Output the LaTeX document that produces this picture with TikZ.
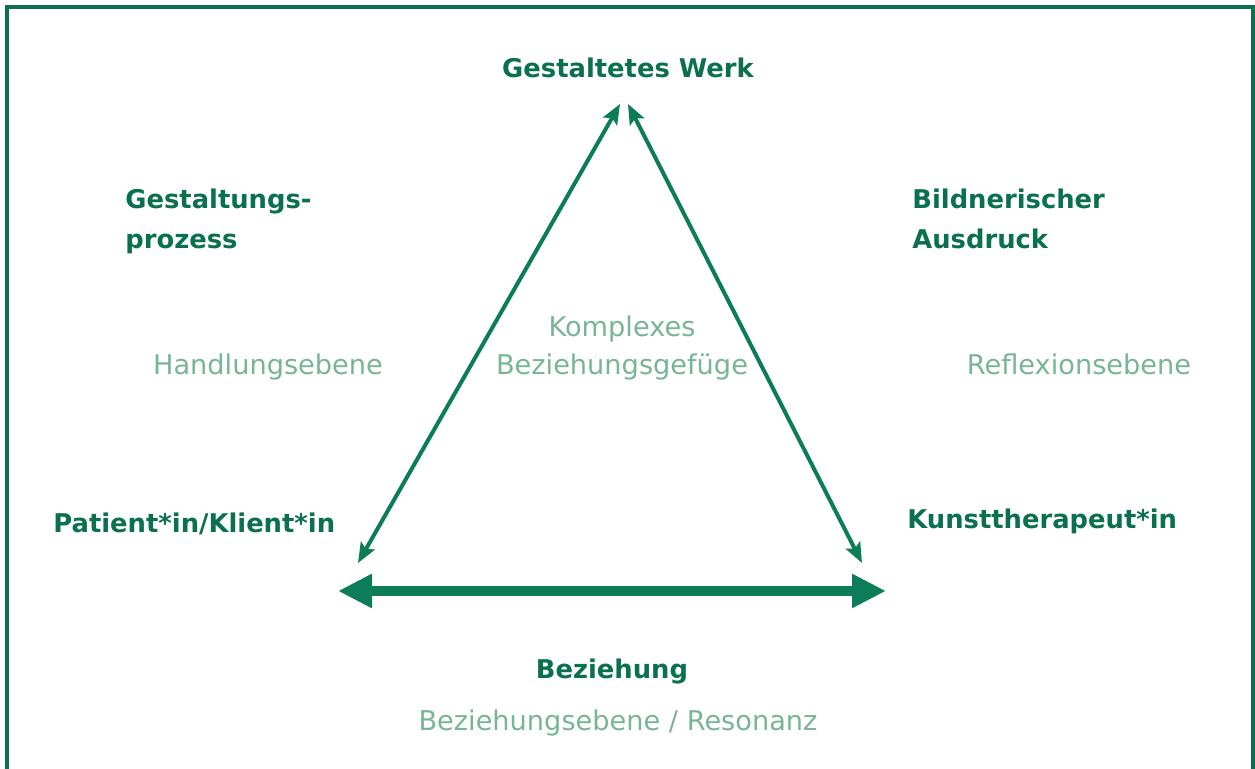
\documentclass[tikz,border=0pt]{standalone}
\usepackage{fontspec}
\setmainfont{DejaVu Sans}
\usetikzlibrary{arrows.meta}
\definecolor{dkgreen}{HTML}{0B7050}
\definecolor{argreen}{HTML}{0C7D58}
\definecolor{ltgreen}{HTML}{78B596}
\tikzset{
  boldlbl/.style={text=dkgreen, font=\fontsize{12.9pt}{20pt}\selectfont\bfseries, inner sep=0pt, align=left},
  lightlbl/.style={text=ltgreen, font=\fontsize{13.6pt}{16pt}\selectfont, inner sep=0pt, align=center},
  thinarrow/.style={draw=argreen, line width=2pt, {Stealth[length=10pt,width=8pt,inset=2pt]}-{Stealth[length=10pt,width=8pt,inset=2pt]}},
  thickarrow/.style={draw=argreen, line width=5pt, {Triangle[length=17pt,width=16pt]}-{Triangle[length=17pt,width=16pt]}},
  frameline/.style={draw=dkgreen, line width=1.6pt}
}
\begin{document}
\begin{tikzpicture}[x=0.5pt,y=-0.5pt]
\useasboundingbox (0,0) rectangle (1255,769);
\draw[frameline] (7,769) -- (7,7) -- (1253,7) -- (1253,769);
% endpoints
\coordinate (topL) at (620,104);
\coordinate (topR) at (628,104);
\coordinate (botL) at (358,563);
\coordinate (botR) at (862,563);
\coordinate (hL) at (338,591);
\coordinate (hR) at (886,591);
\draw[thinarrow] (botL) -- (topL);
\draw[thinarrow] (topR) -- (botR);
\draw[thickarrow] (hL) -- (hR);
% labels
\node[boldlbl, anchor=base] (werk) at (628,78) {Gestaltetes Werk};
\node[boldlbl, anchor=base west] (gp1) at (125,209) {Gestaltungs-};
\node[boldlbl, anchor=base west] (gp2) at (125,249) {prozess};
\node[boldlbl, anchor=base west] (ba1) at (912,209) {Bildnerischer};
\node[boldlbl, anchor=base west] (ba2) at (912,249) {Ausdruck};
\node[lightlbl, anchor=base] (hand) at (268,375) {Handlungsebene};
\node[lightlbl, anchor=base] (kompl1) at (622,337) {Komplexes};
\node[lightlbl, anchor=base] (kompl2) at (622,375) {Beziehungsgefüge};
\node[lightlbl, anchor=base] (refl) at (1079,375) {Reflexionsebene};
\node[boldlbl, anchor=base west] (pat) at (53,533) {Patient*in/Klient*in};
\node[boldlbl, anchor=base west] (kt) at (907,529) {Kunsttherapeut*in};
\node[boldlbl, anchor=base] (bez) at (612,679) {Beziehung};
\node[lightlbl, anchor=base] (res) at (618,731) {Beziehungsebene / Resonanz};
\end{tikzpicture}
\end{document}
